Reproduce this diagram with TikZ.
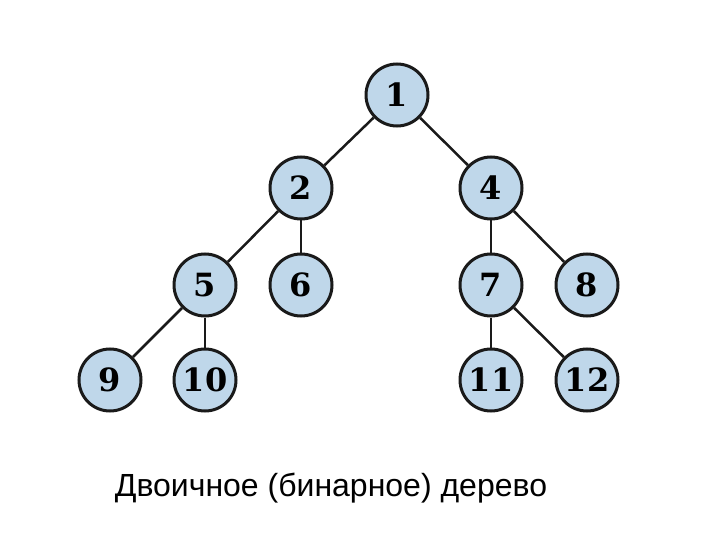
\documentclass[tikz,border=0pt]{standalone}
\usepackage{fontspec}
\setmainfont{Liberation Sans}
\newfontfamily\numfont{DejaVu Serif}
\definecolor{nodefill}{HTML}{BFD7EA}
\definecolor{edge}{HTML}{1A1A1A}
\begin{document}
\begin{tikzpicture}[x=1pt,y=-1pt,
  tn/.style={circle,draw=edge,line width=3pt,fill=nodefill,minimum size=62pt,inner sep=0pt,font=\numfont\bfseries\fontsize{32}{32}\selectfont},
  ln/.style={draw=edge,line width=2.5pt}]
\useasboundingbox (0,0) rectangle (720,540);
\node[tn] (n1) at (397,95) {1};
\node[tn] (n2) at (301,188) {2};
\node[tn] (n4) at (491,188) {4};
\node[tn] (n5) at (205,285) {5};
\node[tn] (n6) at (301,285) {6};
\node[tn] (n7) at (491,285) {7};
\node[tn] (n8) at (587,285) {8};
\node[tn] (n9) at (110,380) {9};
\node[tn] (n10) at (205,380) {10};
\node[tn] (n11) at (491,380) {11};
\node[tn] (n12) at (587,380) {12};
\draw[ln] (n1) -- (n2); \draw[ln] (n1) -- (n4);
\draw[ln] (n2) -- (n5); \draw[ln] (n2) -- (n6);
\draw[ln] (n4) -- (n7); \draw[ln] (n4) -- (n8);
\draw[ln] (n5) -- (n9); \draw[ln] (n5) -- (n10);
\draw[ln] (n7) -- (n11); \draw[ln] (n7) -- (n12);
\node[font=\fontsize{32}{32}\selectfont] (cap) at (331,488) {Двоичное (бинарное) дерево};
\end{tikzpicture}
\end{document}
